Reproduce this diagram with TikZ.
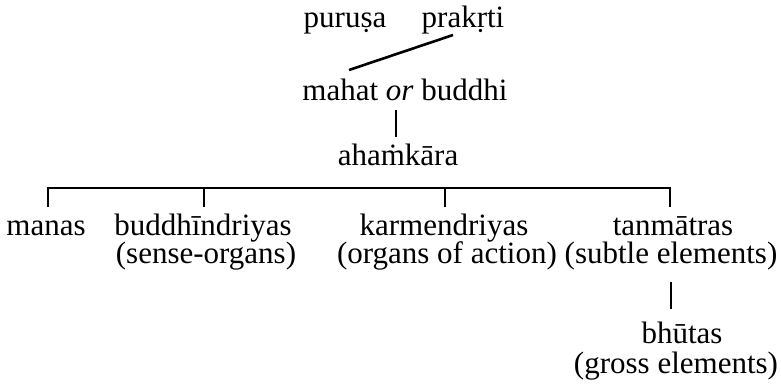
\documentclass[tikz,border=0pt]{standalone}
\usepackage{fontspec}
\setmainfont{Liberation Serif}
\begin{document}
\begin{tikzpicture}[x=1pt,y=-1pt,
  lbl/.style={inner sep=0pt,anchor=base,font=\fontsize{31}{36}\selectfont},
  conn/.style={line width=2.6pt,line join=miter}]
\useasboundingbox (0,0) rectangle (781,384);
% nodes
\node[lbl] (puru) at (345,27) {puruṣa};
\node[lbl] (prak) at (463,27) {prakṛti};
\node[lbl] (mahat) at (405,100) {mahat \textit{or} buddhi};
\node[lbl] (ahank) at (398,165) {ahaṁkāra};
\node[lbl] (manas) at (46,235) {manas};
\node[lbl] (buddhi) at (203,235) {buddhīndriyas};
\node[lbl] (buddhiB) at (206,263) {(sense-organs)};
\node[lbl] (karm) at (444,235) {karmendriyas};
\node[lbl] (karmB) at (447,263) {(organs of action)};
\node[lbl] (tanm) at (673,235) {tanmātras};
\node[lbl] (tanmB) at (671,263) {(subtle elements)};
\node[lbl] (bhut) at (682,343) {bhūtas};
\node[lbl] (bhutB) at (676,373) {(gross elements)};
% connector end points
\coordinate (pk) at (453,35);
\coordinate (mh) at (349,70);
\coordinate (mhB) at (396,110);
\coordinate (ahT) at (396,137);
\coordinate (barL) at (48,188);
\coordinate (barR) at (670,188);
\coordinate (mnT) at (48,207);
\coordinate (bdT) at (204,207);
\coordinate (bdU) at (204,188);
\coordinate (kmT) at (445,207);
\coordinate (kmU) at (445,188);
\coordinate (tnT) at (670,207);
\coordinate (tnB) at (671,282);
\coordinate (bhT) at (671,309);
% connectors
\draw[conn] (pk) -- (mh);
\draw[conn] (mhB) -- (ahT);
\draw[conn] (mnT) -- (barL) -- (barR) -- (tnT);
\draw[conn] (bdU) -- (bdT);
\draw[conn] (kmU) -- (kmT);
\draw[conn] (tnB) -- (bhT);
\end{tikzpicture}
\end{document}
